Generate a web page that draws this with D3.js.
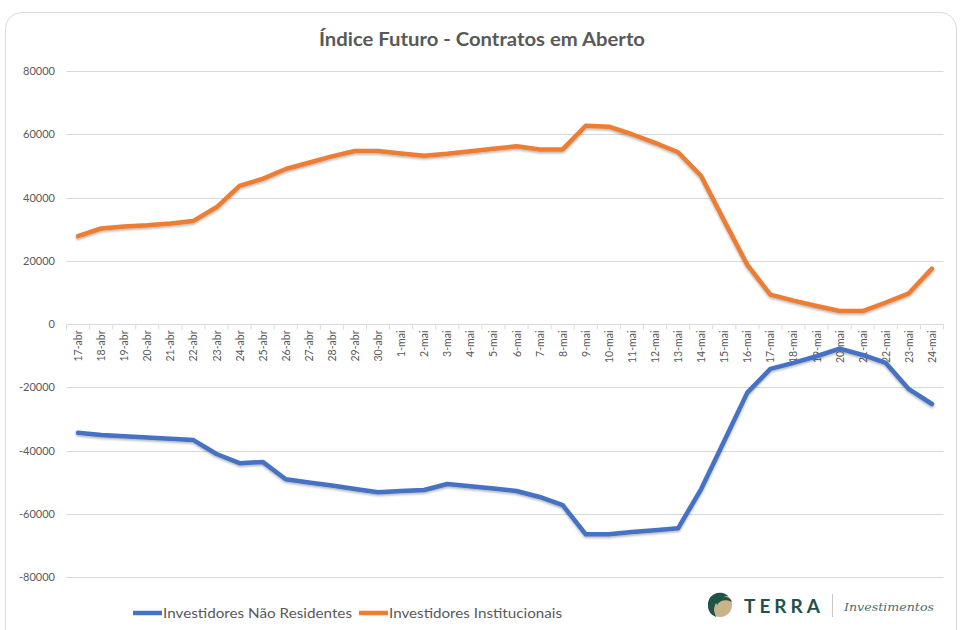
<!DOCTYPE html>
<html>
<head>
<meta charset="utf-8">
<script src="https://cdn.jsdelivr.net/npm/d3@7"></script>
<style>
  body { margin: 0; background: #fff; }
  svg { display: block; font-family: Lato, "Open Sans", sans-serif; }
</style>
</head>
<body>
<svg id="chart" width="960" height="630"></svg>
<script>
// dates on the category axis
const dates = [
  '17-abr','18-abr','19-abr','20-abr','21-abr','22-abr','23-abr','24-abr','25-abr','26-abr',
  '27-abr','28-abr','29-abr','30-abr','1-mai','2-mai','3-mai','4-mai','5-mai','6-mai',
  '7-mai','8-mai','9-mai','10-mai','11-mai','12-mai','13-mai','14-mai','15-mai','16-mai',
  '17-mai','18-mai','19-mai','20-mai','21-mai','22-mai','23-mai','24-mai'
]
const naoResidentes = [
  -34400, -35100, -35500, -35900, -36300, -36700, -41100, -44000, -43600, -49100,
  -50100, -51100, -52200, -53200, -52800, -52500, -50600, -51300, -52000, -52800,
  -54700, -57300, -66500, -66500, -65800, -65200, -64600, -52200, -37000, -21700,
  -14200, -12300, -10200, -7800, -9800, -12300, -20600, -25300
]
const institucionais = [
  27800, 30200, 30800, 31200, 31800, 32600, 36900, 43700, 45900, 49000,
  51000, 53000, 54700, 54700, 53900, 53200, 53800, 54600, 55400, 56200,
  55200, 55200, 62700, 62400, 60000, 57300, 54300, 46800, 32600, 18700,
  9300, 7400, 5700, 4100, 4100, 6800, 9700, 17500
]
const yTicks = [80000, 60000, 40000, 20000, 0, -20000, -40000, -60000, -80000]
const seriesNames = ['Investidores Não Residentes', 'Investidores Institucionais']
const seriesColors = ['#4472C4', '#ED7D31']

const svg = d3.select('#chart')
const left = 66.5, right = 943.5

// card
svg.append('rect')
  .attr('x', 5.5).attr('y', 12.5).attr('width', 951).attr('height', 640)
  .attr('rx', 16).attr('fill', '#fff').attr('stroke', '#d9d9d9')

const defs = svg.append('defs')
const f = defs.append('filter').attr('id', 'shadow')
  .attr('x', '-5%').attr('y', '-5%').attr('width', '110%').attr('height', '120%')
f.append('feDropShadow').attr('dx', 0).attr('dy', 1.5).attr('stdDeviation', 1.2)
  .attr('flood-color', '#000').attr('flood-opacity', 0.3)

svg.append('text')
  .attr('x', 482).attr('y', 46)
  .attr('text-anchor', 'middle')
  .attr('font-size', 19).attr('font-weight', 'bold')
  .attr('fill', '#595959')
  .attr('textLength', 326).attr('lengthAdjust', 'spacingAndGlyphs')
  .text('Índice Futuro - Contratos em Aberto')

const y = d3.scaleLinear().domain([-80000, 80000]).range([577, 71])
const band = d3.scaleBand().domain(dates).range([left, right])
const x = d3.scalePoint().domain(dates).range([left, right]).padding(0.5)

// gridlines + y labels
svg.append('g').selectAll('line').data(yTicks).join('line')
  .attr('x1', left).attr('x2', right)
  .attr('y1', d => Math.round(y(d)) + 0.5).attr('y2', d => Math.round(y(d)) + 0.5)
  .attr('stroke', '#d9d9d9').attr('stroke-width', 1)

svg.append('g').selectAll('text').data(yTicks).join('text')
  .attr('x', 55).attr('y', d => y(d) + 4)
  .attr('text-anchor', 'end')
  .attr('font-size', 11).attr('fill', '#595959')
  .text(d => d)

// category axis at zero
const y0 = Math.round(y(0)) + 0.5
const xAxis = svg.append('g')
xAxis.selectAll('line').data(dates.concat(['end'])).join('line')
  .attr('x1', (d, i) => i < dates.length ? band(d) : right)
  .attr('x2', (d, i) => i < dates.length ? band(d) : right)
  .attr('y1', y0).attr('y2', y0 + 5)
  .attr('stroke', '#d9d9d9')
xAxis.selectAll('text').data(dates).join('text')
  .attr('transform', d => `translate(${x(d) + 4},${y0 + 6}) rotate(-90)`)
  .attr('text-anchor', 'end')
  .attr('font-size', 10.5).attr('fill', '#595959')
  .text(d => d)

// lines
const line = d3.line().x((d, i) => x(dates[i])).y(d => y(d))
;[naoResidentes, institucionais].forEach((s, k) => {
  svg.append('path')
    .datum(s)
    .attr('d', line)
    .attr('fill', 'none')
    .attr('stroke', seriesColors[k])
    .attr('stroke-width', 4.5)
    .attr('stroke-linejoin', 'round')
    .attr('stroke-linecap', 'round')
    .attr('filter', 'url(#shadow)')
})

// legend
const legX = [133, 359]
const legW = [189, 173]
seriesNames.forEach((n, k) => {
  svg.append('line')
    .attr('x1', legX[k]).attr('x2', legX[k] + 29)
    .attr('y1', 613).attr('y2', 613)
    .attr('stroke', seriesColors[k]).attr('stroke-width', 4.5)
  svg.append('text')
    .attr('x', legX[k] + 30).attr('y', 618)
    .attr('font-size', 14).attr('fill', '#595959')
    .attr('textLength', legW[k]).attr('lengthAdjust', 'spacingAndGlyphs')
    .text(n)
})

// logo
const logo = svg.append('g').attr('transform', 'translate(720,605)')
logo.append('circle').attr('r', 12).attr('fill', '#c9b38a')
logo.append('path')
  .attr('d', 'M-12,2 A12,12 0 0,1 8,-9 C0,-8 -6,-3 -6,6 L-4,12 A12,12 0 0,1 -12,2 Z')
  .attr('fill', '#1f5249')
logo.append('path')
  .attr('d', 'M-5,-4 C2,-10 10,-9 12,-3 C6,-6 0,-5 -3,0 Z')
  .attr('fill', '#1f5249')
svg.append('text')
  .attr('x', 744).attr('y', 613)
  .attr('font-size', 19).attr('font-weight', 'bold')
  .attr('fill', '#1f5249')
  .attr('textLength', 76).attr('lengthAdjust', 'spacing')
  .text('TERRA')
svg.append('line')
  .attr('x1', 832.5).attr('x2', 832.5).attr('y1', 594).attr('y2', 617)
  .attr('stroke', '#c8c8c8')
svg.append('text')
  .attr('x', 844).attr('y', 611)
  .attr('font-size', 10.5).attr('font-style', 'italic')
  .attr('font-family', '"DejaVu Serif", "Liberation Serif", serif')
  .attr('fill', '#4f6b66')
  .attr('textLength', 90).attr('lengthAdjust', 'spacingAndGlyphs')
  .text('Investimentos')
</script>
</body>
</html>
